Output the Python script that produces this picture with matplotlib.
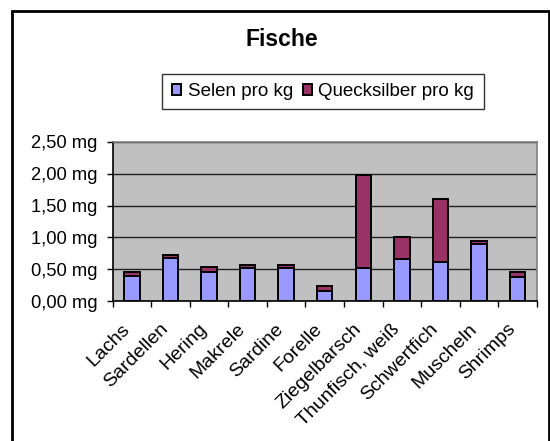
import matplotlib.pyplot as plt
import matplotlib.transforms as mtransforms
import numpy as np
from matplotlib.patches import Rectangle
from matplotlib.ticker import FuncFormatter, FixedLocator

plt.rcParams['font.family'] = ['Liberation Sans', 'DejaVu Sans']

fische = ['Lachs', 'Sardellen', 'Hering', 'Makrele', 'Sardine', 'Forelle',
          'Ziegelbarsch', 'Thunfisch, weiß', 'Schwertfich', 'Muscheln', 'Shrimps']
selen = [0.40, 0.68, 0.45, 0.52, 0.52, 0.15, 0.52, 0.66, 0.61, 0.89, 0.38]
quecksilber = [0.05, 0.05, 0.08, 0.05, 0.05, 0.08, 1.46, 0.35, 0.99, 0.05, 0.08]

W, H = 550, 441
fig = plt.figure(figsize=(W / 100, H / 100), dpi=100)
ax = fig.add_axes([112.5 / W, 1 - 301 / H, (537 - 112.5) / W, (301 - 142) / H])
ax.set_facecolor('#C0C0C0')

x = np.arange(len(fische))
ax.bar(x, selen, width=0.40, color='#9999FF', edgecolor='black', linewidth=1.4,
       label='Selen pro kg', zorder=3)
ax.bar(x, quecksilber, width=0.40, bottom=selen, color='#993366', edgecolor='black',
       linewidth=1.4, label='Quecksilber pro kg', zorder=3)

ax.set_xlim(-0.5, len(fische) - 0.5)
ax.set_ylim(0, 2.5)
ax.set_yticks(np.arange(0, 2.51, 0.5))
ax.yaxis.set_major_formatter(FuncFormatter(lambda v, p: f'{v:.2f} mg'.replace('.', ',')))
ax.grid(axis='y', color='#202020', linewidth=1.0, zorder=1)

# category labels: rotated, ending just left of the bar centre
ax.set_xticks(x)
ax.set_xticklabels(fische, rotation=45, ha='right', rotation_mode='anchor', fontsize=14)
ax.tick_params(axis='x', length=0, pad=14)
shift = mtransforms.ScaledTranslation(-11 / 100, 0, fig.dpi_scale_trans)
for lbl in ax.get_xticklabels():
    lbl.set_transform(lbl.get_transform() + shift)
ax.xaxis.set_minor_locator(FixedLocator(np.arange(-0.5, len(fische), 1.0)))
ax.tick_params(axis='x', which='minor', length=4.5, width=1, direction='out')
ax.tick_params(axis='y', length=4.5, width=1, direction='out', labelsize=13.2, pad=6.5)

for s in ['top', 'right']:
    ax.spines[s].set_color('#808080')
    ax.spines[s].set_linewidth(1.2)
for s in ['left', 'bottom']:
    ax.spines[s].set_color('black')
    ax.spines[s].set_linewidth(1.2)

fig.text(281.5 / W, 1 - 40 / H, 'Fische', ha='center', va='center',
         fontsize=16.5, fontweight='bold')

leg = fig.legend(loc='center', bbox_to_anchor=(323 / W, 1 - 91.5 / H), ncol=2,
                 fontsize=13.5, frameon=True, fancybox=False, edgecolor='black',
                 handlelength=0.48, handleheight=0.48, handletextpad=0.36,
                 columnspacing=0.53, borderpad=0.5)
leg.get_frame().set_linewidth(1.0)

# outer chart frame, open at the bottom edge of the image
fig.patches.append(Rectangle((11.5 / W, -0.05), (549 - 11.5) / W, 1 - 11 / H + 0.05,
                             transform=fig.transFigure, fill=False,
                             edgecolor='black', linewidth=2))

fig.savefig('out.png', dpi=100)
